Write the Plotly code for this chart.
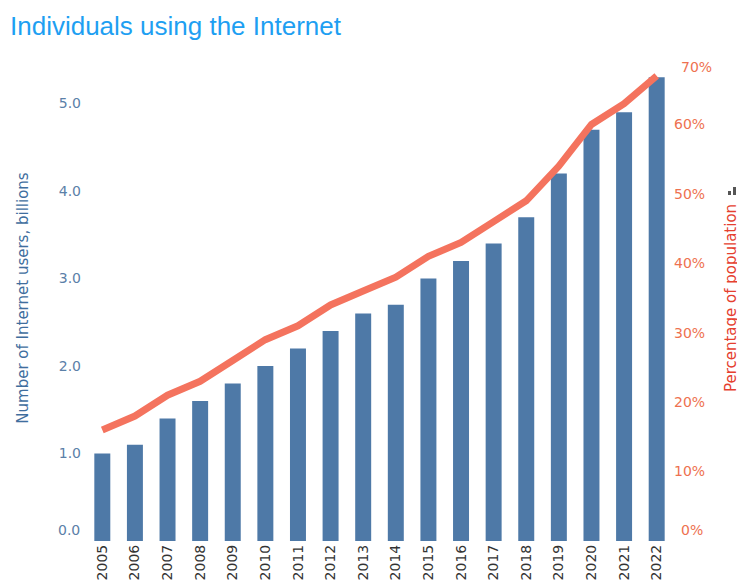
import plotly.graph_objects as go

years = [str(y) for y in range(2005, 2023)]
users_bn = [1.0, 1.1, 1.4, 1.6, 1.8, 2.0, 2.2, 2.4, 2.6, 2.7, 3.0, 3.2, 3.4, 3.7, 4.2, 4.7, 4.9, 5.3]
pct_pop = [0.16, 0.18, 0.21, 0.23, 0.26, 0.29, 0.31, 0.34, 0.36, 0.38, 0.41, 0.43, 0.46, 0.49, 0.54, 0.60, 0.63, 0.67]
left_ticks = [0, 1, 2, 3, 4, 5]
right_ticks = [0, 0.1, 0.2, 0.3, 0.4, 0.5, 0.6, 0.7]

BAR = "#4E79A7"
LINE = "#F4735E"
LEFT_TICK = "#5B80A8"
RIGHT_TICK = "#EE7150"
FONT = "DejaVu Sans"

W, H = 737, 576  # page body has an 8px offset
L, R, T, B = 78, 72, 47, 43

fig = go.Figure()
fig.add_trace(go.Bar(x=years, y=users_bn, marker=dict(color=BAR, line=dict(width=0)),
                     name="Users", yaxis="y"))
fig.add_trace(go.Scatter(x=years, y=pct_pop, mode="lines", line=dict(color=LINE, width=7),
                         name="Percentage", yaxis="y2"))

# edge tick labels are nudged inwards (drawn as annotations)
left_text = ["" if v in (left_ticks[0],) else f"{v:.1f}" for v in left_ticks]
right_text = ["" if v in (right_ticks[0], right_ticks[-1]) else f"{v:.0%}" for v in right_ticks]

fig.update_layout(
    width=W, height=H,
    margin=dict(l=L, r=R, t=T, b=B),
    plot_bgcolor="white", paper_bgcolor="white",
    showlegend=False,
    bargap=0.51,
    title=dict(text="Individuals using the Internet", x=2/W, xanchor="left",
               y=1-18/H, yanchor="middle", yref="container",
               font=dict(family="Liberation Sans, Arial", size=26, color="#1E9FF2")),
    xaxis=dict(type="category", tickangle=-90, showgrid=False, showline=False, zeroline=False,
               ticks="", automargin=False,
               tickfont=dict(family=FONT, size=14, color="#333333")),
    yaxis=dict(range=[0, 5.555], tickvals=left_ticks, ticktext=left_text, showgrid=False,
               zeroline=False, showline=False, ticks="", automargin=False,
               ticklabelstandoff=4,
               tickfont=dict(family=FONT, size=14, color=LEFT_TICK),
               title=dict(text="Number of Internet users, billions", standoff=26,
                          font=dict(family=FONT, size=15, color="#3F6E9E"))),
    yaxis2=dict(range=[0, 0.70], tickvals=right_ticks, ticktext=right_text, overlaying="y",
                side="right", showgrid=False, zeroline=False, showline=False, ticks="",
                automargin=False,
                tickfont=dict(family=FONT, size=14, color=RIGHT_TICK),
                title=dict(text="Percentage of population", standoff=21,
                           font=dict(family=FONT, size=15, color="#E5402F"))),
)

fig.add_annotation(text=f"{left_ticks[0]:.1f}", xref="paper", x=0, xanchor="right", xshift=-4,
                   yref="y", y=left_ticks[0], yanchor="middle", yshift=11, showarrow=False,
                   font=dict(family=FONT, size=14, color=LEFT_TICK))
fig.add_annotation(text=f"{right_ticks[0]:.0%}", xref="paper", x=1, xanchor="left", xshift=6,
                   yref="y2", y=right_ticks[0], yanchor="middle", yshift=11, showarrow=False,
                   font=dict(family=FONT, size=14, color=RIGHT_TICK))
fig.add_annotation(text=f"{right_ticks[-1]:.0%}", xref="paper", x=1, xanchor="left", xshift=6,
                   yref="y2", y=right_ticks[-1], yanchor="middle", yshift=-12, showarrow=False,
                   font=dict(family=FONT, size=14, color=RIGHT_TICK))

# small decorative bar icon at the right (pixel offsets from the plot's right/bottom edge)
icon = [(55, 58, 0, 4), (60, 63, 0, 8), (65, 68, 0, 12)]
for x0, x1, y0, y1 in icon:
    fig.add_shape(type="rect", xref="paper", yref="paper", layer="above",
                  xsizemode="pixel", xanchor=1, ysizemode="pixel", yanchor=0,
                  x0=x0, x1=x1, y0=346 + y0, y1=346 + y1,
                  fillcolor="#555555", line=dict(width=0))

fig.write_html("out.html")
